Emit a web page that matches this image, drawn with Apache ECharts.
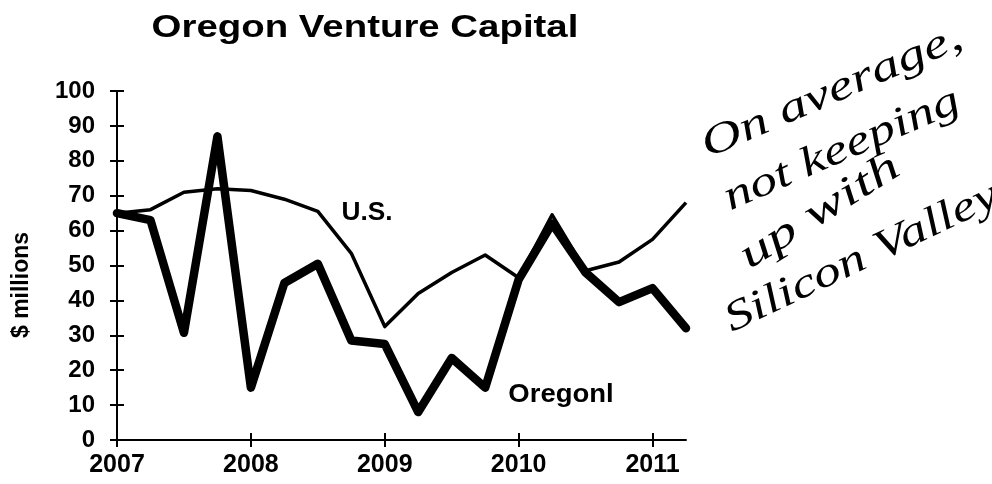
<!DOCTYPE html>
<html>
<head>
<meta charset="utf-8">
<script src="https://cdn.jsdelivr.net/npm/echarts@6/dist/echarts.min.js"></script>
<style>
html,body{margin:0;padding:0;background:#fff;}
#chart{width:992px;height:484px;}
</style>
</head>
<body>
<div id="chart"></div>
<script>
// Quarterly periods, 2007 Q1 through 2011 Q2
var quarters = ['2007 Q1','2007 Q2','2007 Q3','2007 Q4',
                '2008 Q1','2008 Q2','2008 Q3','2008 Q4',
                '2009 Q1','2009 Q2','2009 Q3','2009 Q4',
                '2010 Q1','2010 Q2','2010 Q3','2010 Q4',
                '2011 Q1','2011 Q2'];
// $ millions
var oregon = [65, 63, 30.7, 87, 15, 45, 50.5, 28.5, 27.5, 8, 23.5, 15, 46, 62, 48, 39.5, 43.5, 32];
var us     = [65, 66, 71, 72, 71.5, 69, 65.5, 53.5, 32.5, 42, 48, 53, 46.5, 64.5, 48.5, 51, 57.5, 68];
var yTicks = [0,10,20,30,40,50,60,70,80,90,100];
var titleText = 'Oregon Venture Capital';
var yName = '$ millions';
var note = ['On average,', 'not keeping', 'up with', 'Silicon Valley'];

var chart = echarts.init(document.getElementById('chart'));
var F = 'Liberation Sans, Arial, sans-serif';
var axisColor = '#000';

var option = {
  backgroundColor: '#fff',
  animation: false,
  grid: {left: 117, right: 306, top: 91, bottom: 44, containLabel: false},
  xAxis: [{
    type: 'category', data: quarters, boundaryGap: false,
    axisLine: {lineStyle: {color: axisColor, width: 2}},
    axisTick: {interval: 3, length: 7, lineStyle: {color: axisColor, width: 2}},
    axisLabel: {interval: 3, margin: 13, color: '#000', fontFamily: F, fontWeight: 'bold', fontSize: 25,
      formatter: function (v) { return v.slice(0, 4); }},
    splitLine: {show: false}
  }, {
    type: 'category', data: quarters, boundaryGap: false, position: 'bottom',
    axisLine: {show: false},
    axisTick: {inside: true, interval: 3, length: 7, lineStyle: {color: axisColor, width: 2}},
    axisLabel: {show: false}, splitLine: {show: false}
  }],
  yAxis: [{
    type: 'value', min: yTicks[0], max: yTicks[yTicks.length - 1], interval: 10, position: 'left',
    axisLine: {show: true, lineStyle: {color: axisColor, width: 2}},
    axisTick: {show: true, length: 7, lineStyle: {color: axisColor, width: 2}},
    axisLabel: {margin: 22, color: '#000', fontFamily: F, fontWeight: 'bold', fontSize: 24},
    splitLine: {show: false}
  }, {
    type: 'value', min: yTicks[0], max: yTicks[yTicks.length - 1], interval: 10, position: 'left',
    axisLine: {show: false},
    axisTick: {show: true, inside: true, length: 7, lineStyle: {color: axisColor, width: 2}},
    axisLabel: {show: false}, splitLine: {show: false}
  }],
  series: [{
    name: 'U.S.', type: 'line', data: us, symbol: 'none',
    lineStyle: {color: '#000', width: 3.5, join: 'round'}, z: 3
  }, {
    name: 'Oregon', type: 'line', data: oregon, symbol: 'none',
    lineStyle: {color: '#000', width: 8.5, join: 'round', cap: 'round'}, z: 4
  }],
  graphic: [
    {type: 'text', x: 365, y: 28, scaleX: 1.2,
      style: {text: titleText, font: 'bold 32px Liberation Sans', fill: '#000', align: 'center', verticalAlign: 'middle'}},
    {type: 'text', x: 22, y: 285, rotation: Math.PI / 2,
      style: {text: yName, font: 'bold 23px Liberation Sans', fill: '#000', align: 'center', verticalAlign: 'middle'}},
    {type: 'text', x: 367, y: 213, scaleX: 1.05,
      style: {text: 'U.S.', font: 'bold 25px Liberation Sans', fill: '#000', align: 'center', verticalAlign: 'middle'}},
    {type: 'text', x: 561, y: 395, scaleX: 1.1,
      style: {text: 'Oregonl', font: 'bold 25px Liberation Sans', fill: '#000', align: 'center', verticalAlign: 'middle'}},
    {type: 'text', x: 832, y: 92, rotation: 0.41, scaleX: 1.35,
      style: {text: note[0], font: 'italic 42px Liberation Serif', fill: '#000', align: 'center', verticalAlign: 'middle'}},
    {type: 'text', x: 842, y: 150, rotation: 0.41, scaleX: 1.3,
      style: {text: note[1], font: 'italic 42px Liberation Serif', fill: '#000', align: 'center', verticalAlign: 'middle'}},
    {type: 'text', x: 820, y: 212, rotation: 0.56, scaleX: 1.45,
      style: {text: note[2], font: 'italic 42px Liberation Serif', fill: '#000', align: 'center', verticalAlign: 'middle'}},
    {type: 'text', x: 862, y: 258, rotation: 0.445, scaleX: 1.3,
      style: {text: note[3], font: 'italic 42px Liberation Serif', fill: '#000', align: 'center', verticalAlign: 'middle'}}
  ]
};
chart.setOption(option);
</script>
</body>
</html>
